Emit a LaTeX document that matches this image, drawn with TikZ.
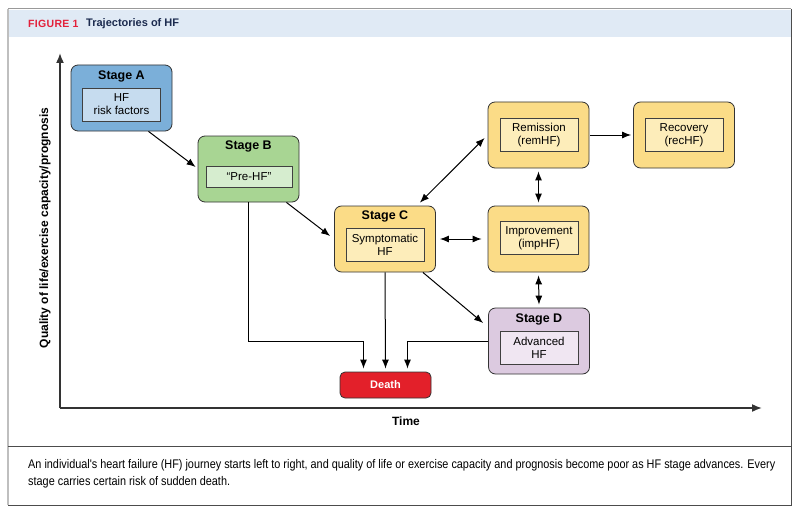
\documentclass[tikz,border=0pt]{standalone}
\usepackage{fontspec}
\setmainfont{Liberation Sans}
\newfontfamily\capfont[FakeStretch=0.87]{Liberation Sans}
\newfontfamily\headfont[LetterSpace=3]{Liberation Sans}
\usetikzlibrary{positioning,calc,arrows.meta}
\definecolor{stageA}{HTML}{7BAFD9}
\definecolor{innerA}{HTML}{C6DCEF}
\definecolor{stageB}{HTML}{A8D593}
\definecolor{innerB}{HTML}{D6EDCF}
\definecolor{stageC}{HTML}{FBDC87}
\definecolor{innerC}{HTML}{FDEDBA}
\definecolor{stageD}{HTML}{DCCAE0}
\definecolor{innerD}{HTML}{F0E6F2}
\definecolor{deathred}{HTML}{E3202A}
\definecolor{headband}{HTML}{E0EAF5}
\definecolor{navy}{HTML}{1C2B4F}
\definecolor{figred}{HTML}{E3203A}
\tikzset{   stagebox/.style = {rectangle, rounded corners=7pt, draw = black!80, line width=0.8pt, minimum width=101pt, minimum height=66pt},
            innerbox/.style = {rectangle, draw = black!75, line width=0.8pt, minimum width=78pt, minimum height=33pt, inner sep=0pt, align=center, font=\fontsize{11.5}{13}\selectfont},
            stagetitle/.style = {font=\bfseries\fontsize{12.5}{14}\selectfont}}
\tikzset{arr/.style={-{Latex[length=9pt,width=7pt]}, line width=1pt},
         darr/.style={{Latex[length=9pt,width=7pt]}-{Latex[length=9pt,width=7pt]}, line width=1pt}}

\begin{document}
\begin{tikzpicture}[x=1pt,y=-1pt]
\useasboundingbox (0,0) rectangle (799,516);
\fill[white] (0,0) rectangle (799,516);
\fill[headband] (9,10) rectangle (791,37);
\draw[black!25, line width=1.5pt] (8,9) -- (8,505);
\draw[black!40, line width=1pt] (8,9) -- (791,9);
\draw[black!70, line width=1pt] (791,9) -- (791,505) -- (8,505);
\draw[black!70, line width=1pt] (8,446) -- (791,446);
\node[anchor=west, text=figred, font=\headfont\bfseries\fontsize{10.5}{12}\selectfont, inner sep=0pt] (fig) at (28,24) {FIGURE 1};
\node[anchor=west, text=navy, font=\bfseries\fontsize{11}{13}\selectfont, inner sep=0pt] (figtitle) at (86,24) {Trajectories of HF};

\coordinate (origin) at (60,408);
\coordinate (ytop) at (60,53);
\coordinate (xend) at (762,408);
\draw[black!80, line width=1.6pt, -{Latex[length=10pt,width=8pt]}] (origin) -- (ytop);
\draw[black!80, line width=1.6pt, -{Latex[length=10pt,width=8pt]}] (origin) -- (xend);
\node[font=\bfseries\fontsize{12}{14}\selectfont, rotate=90] (ylab) at (45,228) {Quality of life/exercise capacity/prognosis};
\node[font=\bfseries\fontsize{12}{14}\selectfont] (xlab) at (406,421) {Time};

\node[stagebox, fill=stageA] (A) at (121.5,98) {};
\node[stagetitle] (Atitle) at (121.5,76) {Stage A};
\node[innerbox, fill=innerA] (Ain) at (121.5,104.5) {HF\\risk factors};

\node[stagebox, fill=stageB] (B) at (248.5,169) {};
\node[stagetitle] (Btitle) at (248.5,146) {Stage B};
\node[innerbox, fill=innerB, minimum width=86pt, minimum height=21pt] (Bin) at (249,176.5) {``Pre-HF''};

\node[stagebox, fill=stageC] (C) at (385,239) {};
\node[stagetitle] (Ctitle) at (385,216) {Stage C};
\node[innerbox, fill=innerC] (Cin) at (385,244.5) {Symptomatic\\HF};

\node[stagebox, fill=stageC] (rem) at (538.5,135) {};
\node[innerbox, fill=innerC] (remin) at (539,135) {Remission\\(remHF)};

\node[stagebox, fill=stageC] (rec) at (684,135) {};
\node[innerbox, fill=innerC] (recin) at (684,135) {Recovery\\(recHF)};

\node[stagebox, fill=stageC] (imp) at (538.5,239) {};
\node[innerbox, fill=innerC] (impin) at (539,238) {Improvement\\(impHF)};

\node[stagebox, fill=stageD] (D) at (539,341) {};
\node[stagetitle] (Dtitle) at (539,319) {Stage D};
\node[innerbox, fill=innerD] (Din) at (539,348) {Advanced\\HF};

\node[rectangle, rounded corners=5pt, draw=black!80, line width=0.8pt, fill=deathred, minimum width=91pt, minimum height=26pt, text=white, font=\bfseries\fontsize{11}{13}\selectfont] (death) at (385.5,385) {Death};

\coordinate (deathL) at ([xshift=-22pt]death.north);
\coordinate (deathR) at ([xshift=22pt]death.north);

\draw[arr] ([xshift=27pt]A.south) -- ([yshift=2pt, xshift=-2pt]B.west);
\draw[arr] ([xshift=-13pt]B.south east) -- ([yshift=3pt, xshift=-4pt]C.west);
\draw[darr] ([xshift=-16pt, yshift=3pt]C.north east) -- ([yshift=-3pt, xshift=-3pt]rem.west);
\draw[darr] ([xshift=4pt]C.east) -- ([xshift=-6pt]imp.west);
\draw[darr] ([yshift=-3pt]rem.south) -- ([yshift=3pt]imp.north);
\draw[arr] ([xshift=1pt]rem.east) -- ([xshift=-2pt]rec.west);
\draw[darr] ([yshift=-3pt]imp.south) -- ([yshift=3pt]D.north);
\draw[arr] ([xshift=-13pt]C.south east) -- ([yshift=18pt, xshift=-5pt]D.west);
\draw[arr] (C.south) -- ([yshift=3pt]death.north);
\draw[arr] (B.south) |- (D.west -| deathL) -- ([yshift=3pt]deathL);
\draw[arr] (D.west) -| ([yshift=3pt]deathR);

\node[anchor=north west, align=left, font=\capfont\fontsize{12.5}{17.5}\selectfont, inner sep=0pt] (caption) at (28,459) {An individual's heart failure (HF) journey starts left to right, and quality of life or exercise capacity and prognosis become poor as HF stage advances. Every\\stage carries certain risk of sudden death.};
\end{tikzpicture}
\end{document}
